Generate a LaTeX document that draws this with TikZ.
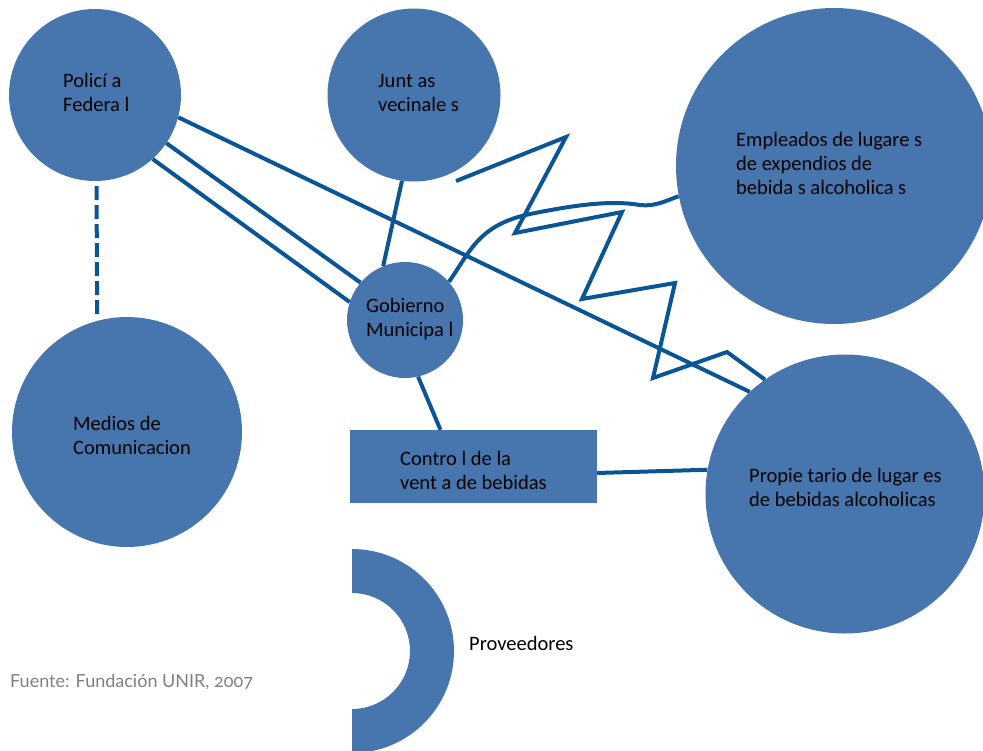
\documentclass[tikz,border=0pt]{standalone}
\usepackage{fontspec}
\setmainfont{Carlito}
\newfontfamily\sourcefont{Lato}[Numbers=OldStyle]
\definecolor{bubbleBlue}{HTML}{4676AD}
\definecolor{linkBlue}{HTML}{0A5596}
\definecolor{sourceGray}{HTML}{808080}
\usetikzlibrary{shapes.geometric, calc}

\tikzset{
  actor/.style={circle, fill=bubbleBlue, inner sep=0pt},
  link/.style={draw=linkBlue, line width=4pt},
  lbl/.style={anchor=base west, align=left, inner sep=0pt,
              font=\fontsize{20.5}{24}\selectfont}
}

\begin{document}
\begin{tikzpicture}[x=1pt, y=-1pt]
  \useasboundingbox (0,0) rectangle (983,750);

  % actors
  \node[actor, minimum size=172pt] (pol) at (95,95) {};
  \node[actor, minimum size=173pt] (jun) at (414,95) {};
  \node[actor, minimum size=116pt] (gob) at (405,320) {};
  \node[actor, minimum size=230pt] (med) at (127,432) {};
  \node[actor, minimum size=316pt] (emp) at (834,166) {};
  \node[actor, minimum size=279pt] (prop) at (845,494) {};
  \node[rectangle, fill=bubbleBlue, inner sep=0pt,
        minimum width=247pt, minimum height=73pt] (ctrl) at (473.5,466.5) {};

  % proveedores (half ring)
  \fill[bubbleBlue] (352,549) arc[start angle=-90, end angle=90, radius=102]
    -- (352,709) arc[start angle=90, end angle=-90, radius=58] -- cycle;

  % links
  \draw[link] (pol.312) -- (gob.162);
  \draw[link] (pol.326) -- (gob.140);
  \draw[link] (pol.345) -- (prop.133);
  \draw[link] (jun.262) -- (gob.112);
  \draw[link, dash pattern=on 14pt off 5pt, shorten <=5pt, shorten >=3pt]
    (pol.271) -- (med.105);
  \draw[link] (gob.283) -- (ctrl.132);
  \draw[link] (ctrl.357) -- (prop.170);
  \draw[link] (gob.41) .. controls (470,252) and (478,225) .. (530,214)
    .. controls (575,205) and (610,200) .. (640,205)
    .. controls (655,207) and (668,200) .. (emp.191);
  \coordinate (zz) at (456,181);
  \draw[link, line join=miter] (zz) -- (566,137) -- (515,233) -- (622,212)
    -- (582,299) -- (675,283) -- (653,378) -- (727,352) -- (prop.125);

  % labels
  \node[lbl] (pol-txt) at (63,111) {Policí a\\Federa l};
  \node[lbl] (jun-txt) at (378,111) {Junt as\\vecinale s};
  \node[lbl] (gob-txt) at (366,336) {Gobierno\\Municipa l};
  \node[lbl] (med-txt) at (73,454) {Medios  de\\Comunicacion};
  \node[lbl] (emp-txt) at (736,194) {Empleados  de lugare s\\de expendios  de\\bebida s alcoholica s};
  \node[lbl] (prop-txt) at (749,506) {Propie tario de lugar es\\de bebidas  alcoholicas};
  \node[lbl] (ctrl-txt) at (400,489) {Contro l de la\\vent a de bebidas};
  \node[lbl] (prov-txt) at (469,650) {Proveedores};
  \node[anchor=base west, inner sep=0pt, text=sourceGray,
        font=\sourcefont\fontsize{18}{20}\selectfont]
    (src) at (10,687) {Fuente: Fundación UNIR, 2007};
\end{tikzpicture}
\end{document}
